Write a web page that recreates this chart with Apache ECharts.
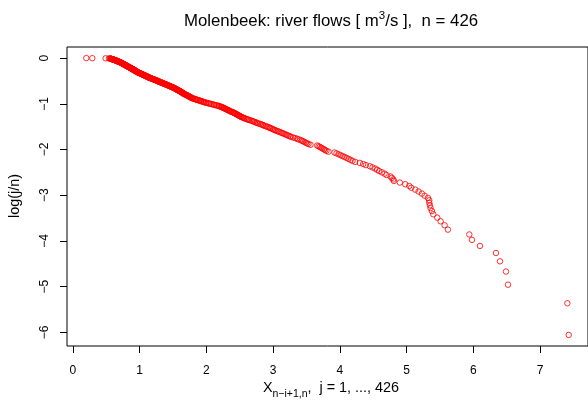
<!DOCTYPE html>
<html>
<head>
<meta charset="utf-8">
<script src="https://cdn.jsdelivr.net/npm/echarts@6/dist/echarts.min.js"></script>
<style>
  html, body { margin: 0; padding: 0; background: #fff; }
  #chart { width: 588px; height: 402px; }
</style>
</head>
<body>
<div id="chart"></div>
<script>
// order statistics of the flows, ascending, n = 426
const flows = [
  0.20, 0.29, 0.49, 0.54,
  0.56, 0.56, 0.57, 0.57, 0.58, 0.58, 0.59, 0.59, 0.60, 0.60, 0.61, 0.61, 0.62,
  0.62, 0.63, 0.63, 0.64, 0.64, 0.64, 0.65, 0.65, 0.66, 0.66, 0.66, 0.67, 0.67, 0.68, 0.68, 0.68, 0.69, 0.69, 0.70, 0.70,
  0.71, 0.71, 0.71, 0.72, 0.72, 0.72, 0.73, 0.73, 0.73, 0.74, 0.74, 0.74, 0.75, 0.75, 0.75, 0.76, 0.76, 0.76, 0.77, 0.77, 0.77, 0.78, 0.78, 0.78, 0.79, 0.79, 0.79, 0.80, 0.80, 0.80,
  0.81, 0.81, 0.81, 0.82, 0.82, 0.82, 0.83, 0.83, 0.84, 0.84, 0.84, 0.85, 0.85, 0.85, 0.86, 0.86, 0.86, 0.87, 0.87, 0.87, 0.88, 0.88, 0.88, 0.89, 0.89, 0.89, 0.90, 0.90,
  0.91, 0.91, 0.91, 0.92, 0.92, 0.92, 0.93, 0.93, 0.93, 0.94, 0.94, 0.94, 0.95, 0.95, 0.95, 0.96, 0.96, 0.96, 0.97, 0.97, 0.98, 0.98, 0.99, 0.99, 1.00,
  1.00, 1.01, 1.01, 1.02, 1.02, 1.03, 1.03, 1.04, 1.04, 1.05, 1.05, 1.06, 1.06, 1.07, 1.07, 1.08, 1.08, 1.09, 1.09, 1.10, 1.10,
  1.11, 1.11, 1.12, 1.12, 1.13, 1.13, 1.14, 1.14, 1.15, 1.15, 1.16, 1.17, 1.17, 1.18, 1.19, 1.19, 1.20,
  1.21, 1.21, 1.22, 1.23, 1.23, 1.24, 1.25, 1.25, 1.26, 1.26, 1.27, 1.28, 1.28, 1.29, 1.29, 1.30,
  1.31, 1.31, 1.32, 1.33, 1.33, 1.34, 1.35, 1.35, 1.36, 1.37, 1.37, 1.38, 1.39, 1.40,
  1.40, 1.41, 1.42, 1.42, 1.43, 1.44, 1.44, 1.45, 1.46, 1.46, 1.47, 1.48, 1.48, 1.49, 1.50,
  1.51, 1.51, 1.52, 1.52, 1.53, 1.54, 1.54, 1.55, 1.55, 1.56, 1.56, 1.57, 1.58, 1.58, 1.59, 1.59, 1.60,
  1.61, 1.61, 1.62, 1.62, 1.63, 1.63, 1.64, 1.64, 1.65, 1.65, 1.66, 1.66, 1.67, 1.68, 1.68, 1.69, 1.70,
  1.71, 1.71, 1.72, 1.73, 1.73, 1.74, 1.75, 1.75, 1.76, 1.77, 1.78, 1.78, 1.79, 1.80,
  1.81, 1.83, 1.84, 1.85, 1.86, 1.87, 1.89, 1.90,
  1.91, 1.92, 1.94, 1.95, 1.96, 1.97, 1.99, 2.00,
  2.02, 2.04, 2.05, 2.07, 2.09, 2.11, 2.12, 2.14, 2.16, 2.18, 2.19, 2.20, 2.22,
  2.23, 2.24, 2.25, 2.26, 2.27, 2.28, 2.29, 2.30, 2.31, 2.32, 2.33, 2.34, 2.35, 2.36, 2.37, 2.39, 2.40,
  2.41, 2.42, 2.43, 2.44, 2.45, 2.46, 2.47, 2.48, 2.49, 2.50, 2.51, 2.52, 2.53, 2.55, 2.56,
  2.57, 2.59, 2.61, 2.62, 2.64, 2.66, 2.68, 2.70, 2.71, 2.73,
  2.75, 2.76, 2.78, 2.80, 2.82, 2.84, 2.85, 2.87, 2.89, 2.91,
  2.93, 2.95, 2.96, 2.98, 3.00, 3.01, 3.03, 3.05,
  3.07, 3.09, 3.11, 3.13, 3.15, 3.17, 3.19, 3.21,
  3.23, 3.25, 3.27, 3.30, 3.33, 3.36, 3.38, 3.41,
  3.43, 3.45, 3.47, 3.49, 3.51, 3.53, 3.56,
  3.66, 3.68, 3.70, 3.72, 3.74, 3.76, 3.78, 3.80, 3.83,
  3.92, 3.95, 3.98, 4.01, 4.04, 4.07, 4.10, 4.13, 4.16, 4.19, 4.23,
  4.30, 4.35, 4.39, 4.45, 4.49, 4.53, 4.56, 4.59, 4.63, 4.67, 4.70, 4.76, 4.78, 4.80, 4.81,
  4.90, 4.98, 5.04, 5.07, 5.13, 5.18, 5.23, 5.27, 5.32, 5.34, 5.34, 5.35, 5.36, 5.38, 5.40,
  5.46, 5.51, 5.57, 5.62, 5.94, 5.98, 6.10, 6.34, 6.40, 6.49, 6.52, 7.41, 7.43
];
const xTicks = [0, 1, 2, 3, 4, 5, 6, 7];
const yTicks = [0, -1, -2, -3, -4, -5, -6];

const n = flows.length;
// point i (ascending) has rank j = n - i  ->  y = log(j/n)
const points = flows.map((x, i) => [x, Math.log((n - i) / n)]);

// R style axis limits: data range stretched by 4% on each side
function rlim(lo, hi) {
  const d = (hi - lo) * 0.04;
  return [lo - d, hi + d];
}
const xlim = rlim(Math.min(...flows), Math.max(...flows));
const ylim = rlim(Math.log(1 / n), 0);

const FONT = 'Liberation Sans, Arial, Helvetica, sans-serif';
const minus = v => String(v).replace('-', '\u2212');

const chart = echarts.init(document.getElementById('chart'), null, { renderer: 'canvas' });

chart.setOption({
  animation: false,
  backgroundColor: '#fff',
  grid: {
    left: 67, right: -7, top: 47, bottom: 56,
    show: true, borderColor: '#000', borderWidth: 1,
    backgroundColor: 'transparent'
  },
  xAxis: {
    type: 'value', min: xlim[0], max: xlim[1],
    axisLine: { show: false, onZero: false },
    splitLine: { show: false },
    axisTick: { show: true, length: 7, customValues: xTicks, lineStyle: { color: '#000' } },
    axisLabel: { customValues: xTicks, margin: 19, color: '#000', fontSize: 12, fontFamily: FONT }
  },
  yAxis: {
    type: 'value', min: ylim[0], max: ylim[1],
    axisLine: { show: false, onZero: false },
    splitLine: { show: false },
    axisTick: { show: true, length: 7, customValues: yTicks, lineStyle: { color: '#000' } },
    axisLabel: {
      customValues: yTicks, rotate: 90, margin: 16, color: '#000',
      fontSize: 12, fontFamily: FONT, formatter: minus
    }
  },
  series: [{
    type: 'scatter',
    data: points,
    symbol: 'circle',
    symbolSize: 5.5,
    silent: true,
    itemStyle: { color: 'rgba(0,0,0,0)', borderColor: '#ff0000', borderWidth: 1 }
  }],
  graphic: [
    {
      type: 'text', x: 331, y: 20,
      style: {
        text: '{t|Molenbeek: river flows [ m}{sup|3}{t|/s ],  n = 426}',
        align: 'center', verticalAlign: 'middle',
        rich: {
          t: { fontSize: 16.8, fontFamily: FONT, fill: '#000', lineHeight: 20, verticalAlign: 'bottom' },
          sup: { fontSize: 11.5, fontFamily: FONT, fill: '#000', lineHeight: 11, verticalAlign: 'top' }
        }
      }
    },
    {
      type: 'text', x: 331, y: 394,
      style: {
        text: '{m|X}{s|n\u2212i+1,n}{m|,  j = 1, ..., 426}',
        align: 'center', verticalAlign: 'middle',
        rich: {
          m: { fontSize: 14.4, fontFamily: FONT, fill: '#000', lineHeight: 16, verticalAlign: 'top' },
          s: { fontSize: 10.5, fontFamily: FONT, fill: '#000', lineHeight: 26 }
        }
      }
    },
    {
      type: 'text', x: 15, y: 196, rotation: Math.PI / 2,
      style: {
        text: 'log(j/n)', align: 'center', verticalAlign: 'middle',
        fontSize: 14.4, fontFamily: FONT, fill: '#000'
      }
    }
  ]
});
</script>
</body>
</html>
